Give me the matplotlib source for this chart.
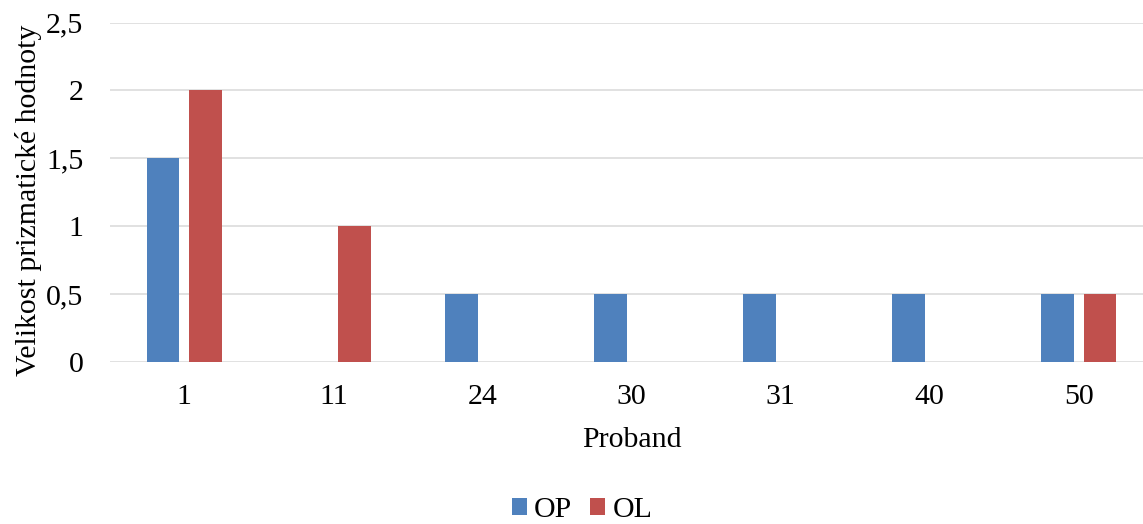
import numpy as np
import matplotlib
matplotlib.use("Agg")
import matplotlib.pyplot as plt
from matplotlib.ticker import FuncFormatter

plt.rcParams['font.family'] = ['Liberation Serif', 'DejaVu Serif']

probandi = ["1", "11", "24", "30", "31", "40", "50"]
op = [1.5, 0, 0.5, 0.5, 0.5, 0.5, 0.5]
ol = [2, 1, 0, 0, 0, 0, 0.5]

c_op = "#4F81BD"
c_ol = "#C0504D"

fig = plt.figure(figsize=(11.43, 5.24), dpi=100)
ax = fig.add_axes([0.096, 0.3097, 0.913, 0.647])

x = np.arange(len(probandi))
w = 0.219
off = 0.142
ax.bar(x - off, op, w, color=c_op, label="OP", zorder=3)
ax.bar(x + off, ol, w, color=c_ol, label="OL", zorder=3)

ax.set_xlim(-0.5, len(probandi) - 0.5)
ax.set_ylim(0, 2.5)
ax.set_yticks(np.arange(0, 2.51, 0.5))
ax.yaxis.set_major_formatter(FuncFormatter(lambda v, p: ("%g" % v).replace(".", ",")))
ax.set_xticks(x)
ax.set_xticklabels(probandi)

ax.grid(axis="y", color="#D9D9D9", linewidth=1.1, zorder=0)
for s in ax.spines.values():
    s.set_visible(False)
ax.tick_params(axis="both", length=0, labelsize=21.5)
ax.tick_params(axis="y", pad=19)
ax.tick_params(axis="x", pad=16)

ax.set_xlabel("Proband", fontsize=21.5, labelpad=12)
ax.set_ylabel("Velikost prizmatické hodnoty", fontsize=21.5)
ax.yaxis.set_label_coords(-0.065, 0.476)

fig.legend(loc="center", bbox_to_anchor=(582 / 1143, 1 - 510 / 524), ncol=2,
           frameon=False, fontsize=21.5, handlelength=0.5, handleheight=0.5,
           handletextpad=0.25, columnspacing=0.6)

fig.savefig("out.png", dpi=100, facecolor="white")
